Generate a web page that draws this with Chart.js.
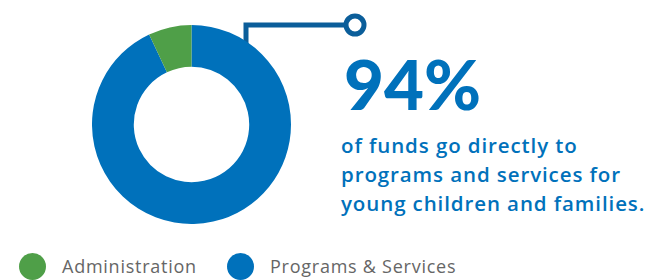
<!DOCTYPE html>
<html>
<head>
<meta charset="utf-8">
<script src="https://cdn.jsdelivr.net/npm/chart.js@4"></script>
<style>
  html, body { margin: 0; padding: 0; background: #fff; }
  body { width: 645px; height: 280px; position: relative; overflow: hidden; font-family: "Open Sans", sans-serif; }
  #ring { position: absolute; left: 92px; top: 25px; width: 199px; height: 199px; }
  #callout { position: absolute; left: 0; top: 0; }
  #big { position: absolute; left: 344px; top: 49px; font-family: Lato, sans-serif; font-weight: 900; font-size: 69px; color: #0071bb; line-height: 1; }
  #blurb { position: absolute; left: 341px; top: 131px; font-size: 20.5px; font-weight: 600; letter-spacing: 0.9px; color: #0071bb; line-height: 29px; white-space: nowrap; }
  #legend { position: absolute; left: 0; top: 252px; height: 28px; }
  .item { position: absolute; top: 0; white-space: nowrap; font-size: 18px; letter-spacing: 0.75px; color: #666; line-height: 28px; }
  .dot { position: absolute; top: 1px; width: 27px; height: 27px; border-radius: 50%; }
</style>
</head>
<body>
<svg id="callout" width="645" height="280">
  <polyline points="246,57 246,25 344,25" fill="none" stroke="#0b5e9a" stroke-width="5"/>
  <circle cx="355" cy="25" r="9" fill="none" stroke="#0b5e9a" stroke-width="5"/>
</svg>
<div id="ring"><canvas id="myChart"></canvas></div>
<div id="big">94%</div>
<div id="blurb">of funds go directly to<br>programs and services for<br>young children and families.</div>
<div id="legend"></div>
<script>
'use strict';

// share of funds
var kategori = ['Programs & Services', 'Administration'];
var nilai = [93, 7];
var warna = ['#0071bb', '#4f9f48'];

// legend order as shown under the chart
var urutanLegend = ['Administration', 'Programs & Services'];
var posisiLegend = [19, 227];

var ctx = document.getElementById('myChart');

var myChart = new Chart(ctx, {
  type: 'doughnut',
  data: {
    labels: kategori,
    datasets: [{
      data: nilai,
      backgroundColor: warna,
      borderWidth: 0,
    }]
  },
  options: {
    responsive: true,
    maintainAspectRatio: false,
    animation: false,
    cutout: '58%',
    plugins: {
      legend: { display: false },
      tooltip: { enabled: false },
    },
  }
});

// legend built from the chart's own labels
var legendEl = document.getElementById('legend');
urutanLegend.forEach(function(nama, i) {
  var idx = kategori.indexOf(nama);
  var item = document.createElement('div');
  item.className = 'item';
  item.style.left = posisiLegend[i] + 'px';
  item.innerHTML = '<span class="dot" style="left:0;background:' + warna[idx] + '"></span>' +
    '<span style="margin-left:43px">' + myChart.data.labels[idx] + '</span>';
  legendEl.appendChild(item);
});
</script>
</body>
</html>
